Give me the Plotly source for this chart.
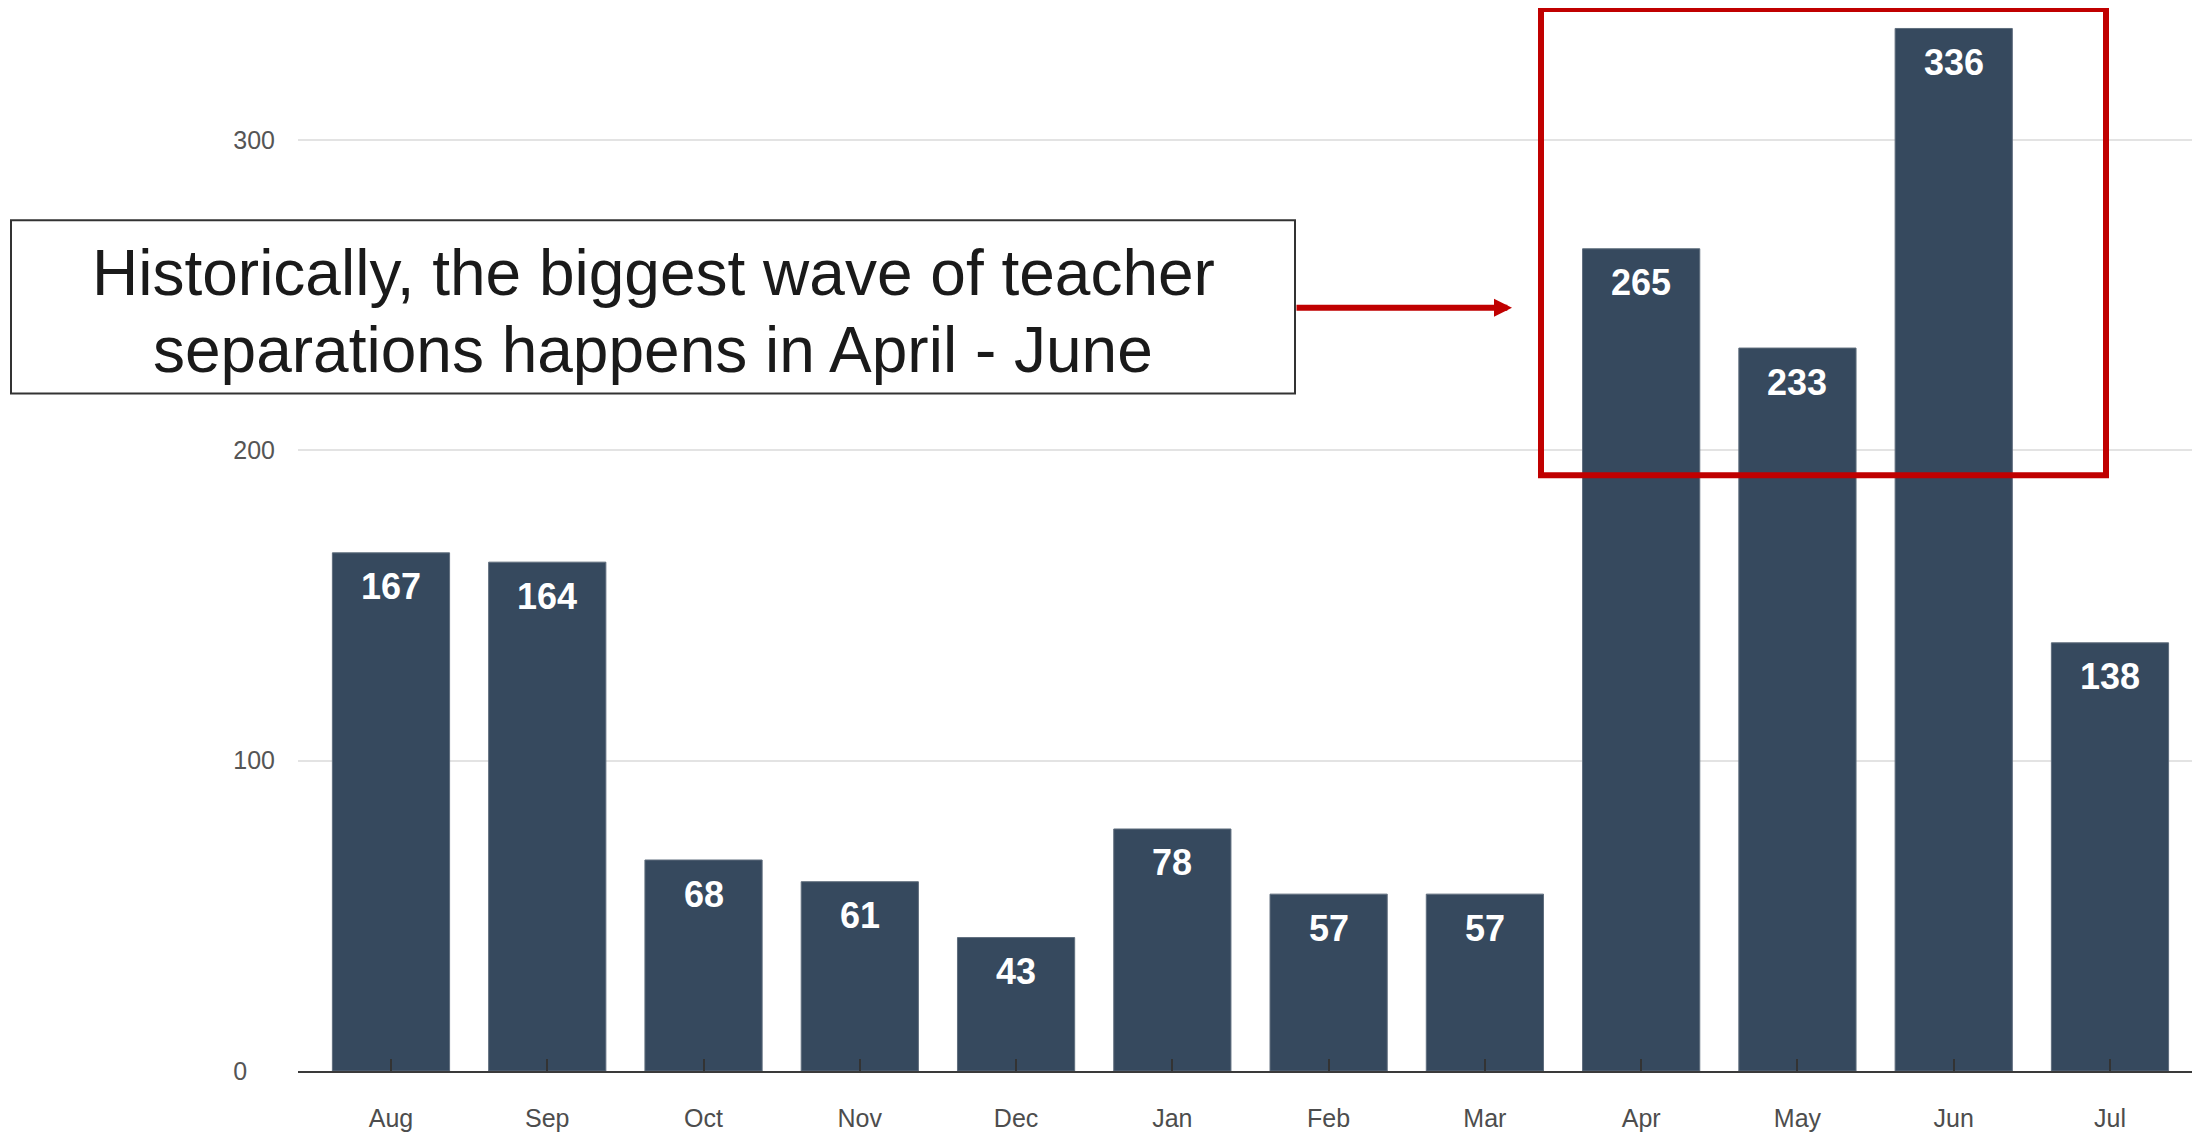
import plotly.graph_objects as go

# ---- data ----
months = ["Aug", "Sep", "Oct", "Nov", "Dec", "Jan", "Feb", "Mar", "Apr", "May", "Jun", "Jul"]
separations = [167, 164, 68, 61, 43, 78, 57, 57, 265, 233, 336, 138]
y_tick_vals = [0, 100, 200, 300]
y_tick_text = ["0\u2007\u2007", "100", "200", "300"]
callout_lines = ["Historically, the biggest wave of teacher",
                 "separations happens in April - June"]

OFF = 8  # page body margin
W, H = 2200 - OFF, 1132 - OFF
ML, MR, MT, MB = 290, 0, 0, 57
PW, PH = W - ML - MR, H - MT - MB


def px(X):
    """picture x -> paper x"""
    return (X - OFF - ML) / PW


def py(Y):
    """picture y -> paper y"""
    return (H - MB - (Y - OFF)) / PH


FONT = "Liberation Sans, Arial, sans-serif"
BAR = "#36495e"
RED = "#c00000"

fig = go.Figure()
fig.add_trace(go.Bar(
    x=months, y=separations,
    marker=dict(color=BAR, line=dict(color="#5f6d7d", width=1)),
    hoverinfo="x+y",
))

annotations = []
for m, v in zip(months, separations):
    annotations.append(dict(
        x=m, y=v, xref="x", yref="y", text=f"<b>{v}</b>", showarrow=False,
        yanchor="middle", yshift=-34,
        font=dict(family=FONT, size=36, color="white"),
    ))

# callout text lines
annotations.append(dict(x=px(653), y=py(274), xref="paper", yref="paper",
                        text=callout_lines[0], showarrow=False,
                        xanchor="center", yanchor="middle",
                        font=dict(family=FONT, size=64, color="#1a1a1a")))
annotations.append(dict(x=px(653), y=py(351), xref="paper", yref="paper",
                        text=callout_lines[1], showarrow=False,
                        xanchor="center", yanchor="middle",
                        font=dict(family=FONT, size=64, color="#1a1a1a")))

# red arrow
annotations.append(dict(x=px(1512), y=py(309), xref="paper", yref="paper",
                        text="", showarrow=True, ax=-217, ay=0,
                        axref="pixel", ayref="pixel",
                        arrowhead=2, arrowsize=0.6, arrowwidth=6,
                        arrowcolor=RED, standoff=0, startstandoff=0))

shapes = [
    # callout box
    dict(type="rect", xref="paper", yref="paper",
         x0=px(11), x1=px(1295), y0=py(395), y1=py(221),
         line=dict(color="#333333", width=2), fillcolor="white", layer="above"),
    # highlight rectangle around Apr-Jun
    dict(type="rect", xref="paper", yref="paper",
         x0=px(1541), x1=px(2106), y0=py(477), y1=py(9),
         line=dict(color=RED, width=6), fillcolor="rgba(0,0,0,0)", layer="above"),
]

fig.update_layout(
    width=W, height=H,
    margin=dict(l=ML, r=MR, t=MT, b=MB),
    paper_bgcolor="white", plot_bgcolor="white",
    bargap=0.25, showlegend=False,
    font=dict(family=FONT),
    annotations=annotations, shapes=shapes,
    xaxis=dict(type="category", range=[-0.595, 11.576],
               showline=True, linecolor="#3a3a3a", linewidth=2,
               ticks="inside", ticklen=12, tickwidth=2, tickcolor="#333333",
               tickfont=dict(family=FONT, size=25, color="#4d4d4d"),
               ticklabelstandoff=24, showgrid=False, zeroline=False),
    yaxis=dict(range=[0, 342.6], tickvals=y_tick_vals, ticktext=y_tick_text,
               showgrid=True, gridcolor="#e3e3e3", gridwidth=2,
               zeroline=False, showline=False, ticks="",
               tickfont=dict(family=FONT, size=25, color="#555555"),
               ticklabelstandoff=22),
)

fig.write_html("out.html")
